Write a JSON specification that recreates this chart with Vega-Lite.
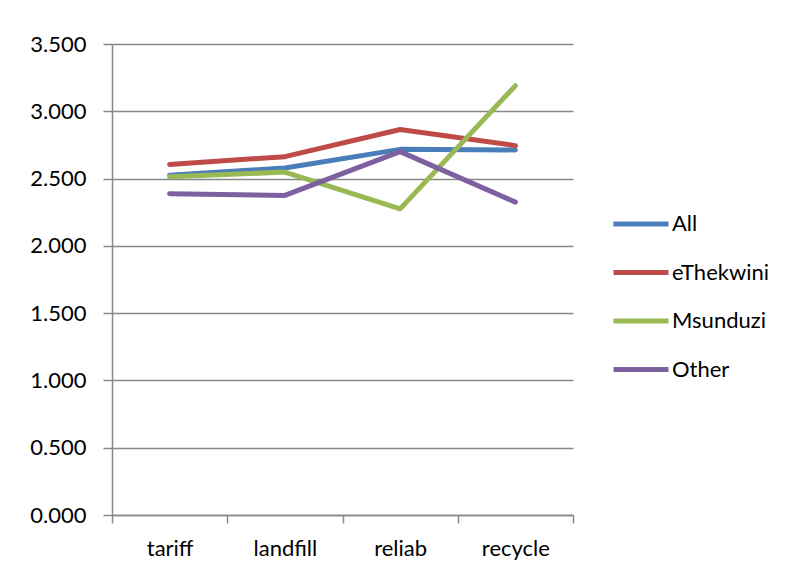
{
  "$schema": "https://vega.github.io/schema/vega-lite/v6.json",
  "width": 461,
  "height": 471,
  "autosize": {"type": "none"},
  "padding": {"left": 112, "top": 44, "right": 225, "bottom": 56},
  "background": "white",
  "config": {
    "view": {"stroke": null},
    "font": "Lato",
    "axis": {"labelFont": "Lato", "labelColor": "#000000", "labelFontSize": 22}
  },
  "data": {
    "values": [
      {"item": "tariff", "group": "All", "score": 2.525},
      {"item": "landfill", "group": "All", "score": 2.578},
      {"item": "reliab", "group": "All", "score": 2.717},
      {"item": "recycle", "group": "All", "score": 2.713},
      {"item": "tariff", "group": "eThekwini", "score": 2.605},
      {"item": "landfill", "group": "eThekwini", "score": 2.663},
      {"item": "reliab", "group": "eThekwini", "score": 2.865},
      {"item": "recycle", "group": "eThekwini", "score": 2.745},
      {"item": "tariff", "group": "Msunduzi", "score": 2.513},
      {"item": "landfill", "group": "Msunduzi", "score": 2.548},
      {"item": "reliab", "group": "Msunduzi", "score": 2.275},
      {"item": "recycle", "group": "Msunduzi", "score": 3.19},
      {"item": "tariff", "group": "Other", "score": 2.388},
      {"item": "landfill", "group": "Other", "score": 2.375},
      {"item": "reliab", "group": "Other", "score": 2.7},
      {"item": "recycle", "group": "Other", "score": 2.325}
    ]
  },
  "mark": {"type": "line", "strokeWidth": 5, "strokeCap": "round", "strokeJoin": "round"},
  "encoding": {
    "x": {
      "field": "item",
      "type": "nominal",
      "sort": ["tariff", "landfill", "reliab", "recycle"],
      "scale": {"type": "band", "paddingInner": 0, "paddingOuter": 0},
      "axis": {
        "title": null,
        "labelAngle": 0,
        "tickBand": "extent",
        "tickSize": 8,
        "tickColor": "#878787",
        "tickWidth": 1.5,
        "domainColor": "#878787",
        "domainWidth": 1.5,
        "labelPadding": 15,
        "grid": false
      }
    },
    "y": {
      "field": "score",
      "type": "quantitative",
      "scale": {"domain": [0, 3.5], "nice": false, "zero": true},
      "axis": {
        "title": null,
        "values": [0, 0.5, 1, 1.5, 2, 2.5, 3, 3.5],
        "format": ".3f",
        "tickSize": 9,
        "tickColor": "#878787",
        "tickWidth": 1.5,
        "domainColor": "#878787",
        "domainWidth": 1.5,
        "grid": true,
        "gridColor": "#878787",
        "gridWidth": 1.5,
        "labelPadding": 17
      }
    },
    "color": {
      "field": "group",
      "type": "nominal",
      "sort": ["All", "eThekwini", "Msunduzi", "Other"],
      "scale": {
        "domain": ["All", "eThekwini", "Msunduzi", "Other"],
        "range": ["#4A7EBB", "#BE4B48", "#98B954", "#7D60A0"]
      },
      "legend": {
        "title": null,
        "orient": "none",
        "legendX": 499,
        "legendY": 170,
        "padding": 0,
        "symbolType": "M-1,0H1",
        "symbolSize": 3025,
        "symbolStrokeWidth": 5,
        "clipHeight": 20,
        "rowPadding": 26.5,
        "labelOffset": 1,
        "labelFont": "Lato",
        "labelFontSize": 22,
        "labelColor": "#000000"
      }
    }
  }
}
